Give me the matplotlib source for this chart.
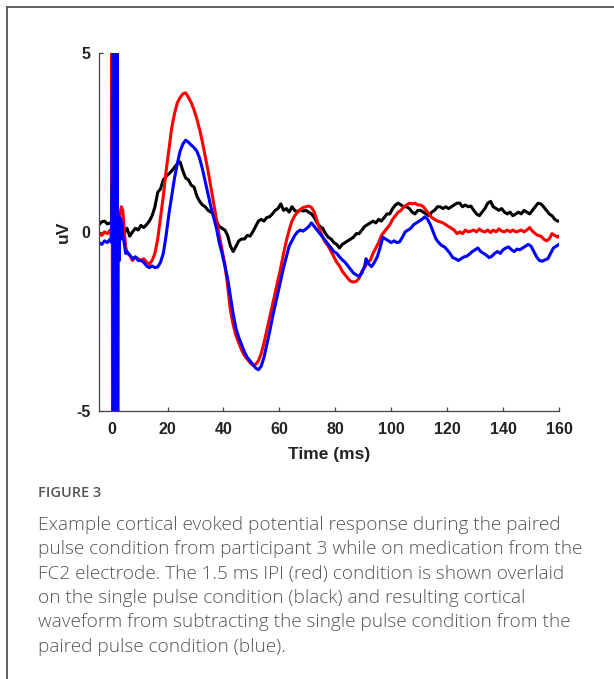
import matplotlib
matplotlib.use("Agg")
import matplotlib.pyplot as plt
from matplotlib.lines import Line2D

plt.rcParams["axes.unicode_minus"] = False

# ---------------- data ----------------
t_black = [-4.5,-3.5,-2.5,-1.5,-0.5,0.5,1.5,2.5,3.5,4.5,5.5,6.5,7.5,8.5,9.5,10.5,11.5,12.5,13.5,14.5,
           15.5,16.5,17.5,18.5,19.5,20.5,21.5,22.5,23.5,24.5,25.5,26.5,27.5,28.5,29.5,30.5,31.5,32.5,33.5,34.5,
           35.5,36.5,37.5,38.5,39.5,40.5,41.5,42.5,43.5,44.5,45.5,46.5,47.5,48.5,49.5,50.5,51.5,52.5,53.5,54.5,
           55.5,56.5,57.5,58.5,59.5,60.5,61.5,62.5,63.5,64.5,65.5,66.5,67.5,68.5,69.5,70.5,71.5,72.5,73.5,74.5,
           75.5,76.5,77.5,78.5,79.5,80.5,81.5,82.5,83.5,84.5,85.5,86.5,87.5,88.5,89.5,90.5,91.5,92.5,93.5,94.5,
           95.5,96.5,97.5,98.5,99.5,100.5,101.5,102.5,103.5,104.5,105.5,106.5,107.5,108.5,109.5,110.5,111.5,112.5,113.5,114.5,
           115.5,116.5,117.5,118.5,119.5,120.5,121.5,122.5,123.5,124.5,125.5,126.5,127.5,128.5,129.5,130.5,131.5,132.5,133.5,134.5,
           135.5,136.5,137.5,138.5,139.5,140.5,141.5,142.5,143.5,144.5,145.5,146.5,147.5,148.5,149.5,150.5,151.5,152.5,153.5,154.5,
           155.5,156.5,157.5,158.5,159.5,160]
v_black = [0.2,0.28,0.3,0.22,0.25,0.3,0.1,0.2,0.0,-0.05,0.1,-0.12,0.0,0.1,0.05,0.18,0.12,0.2,0.3,0.45,
           0.7,1.1,1.2,1.45,1.55,1.62,1.7,1.8,1.9,1.95,1.7,1.5,1.45,1.3,1.25,1.0,0.85,0.75,0.7,0.6,
           0.55,0.5,0.3,0.15,0.1,0.05,-0.1,-0.4,-0.55,-0.4,-0.25,-0.2,-0.2,-0.1,-0.12,0.0,0.15,0.3,0.35,0.3,
           0.4,0.42,0.5,0.6,0.65,0.78,0.6,0.65,0.55,0.7,0.6,0.55,0.62,0.58,0.6,0.55,0.5,0.4,0.25,0.15,
           0.1,-0.05,-0.15,-0.2,-0.3,-0.35,-0.45,-0.35,-0.3,-0.25,-0.2,-0.15,-0.05,-0.05,0.05,0.15,0.2,0.25,0.3,0.25,
           0.35,0.3,0.4,0.5,0.5,0.65,0.75,0.8,0.75,0.7,0.7,0.65,0.55,0.5,0.6,0.6,0.55,0.5,0.45,0.55,
           0.6,0.7,0.7,0.65,0.7,0.65,0.7,0.75,0.8,0.8,0.7,0.75,0.7,0.72,0.6,0.5,0.45,0.55,0.65,0.8,
           0.85,0.7,0.65,0.6,0.65,0.55,0.5,0.55,0.45,0.5,0.55,0.5,0.6,0.55,0.5,0.6,0.7,0.8,0.78,0.7,
           0.6,0.5,0.45,0.35,0.3,0.3]

t_red = [-4.5,-3.5,-2.5,-1.5,-0.5,0.0,0.15,0.35,0.55,0.75,0.95,1.15,1.4,1.8,2.2,2.6,3.0,3.5,4.0,4.5,
         5.0,5.5,6.5,7.5,8.5,9.5,10.5,11.5,12.5,13.5,14.5,15.5,16.5,17.5,18.5,19.5,20.5,21.5,22.5,23.5,
         24.5,25.5,26.5,27.5,28.5,29.5,30.5,31.5,32.5,33.5,34.5,35.5,36.5,37.5,38.5,39.5,40.5,41.5,42.5,43.5,
         44.5,45.5,46.5,47.5,48.5,49.5,50.5,51.5,52.5,53.5,54.5,55.5,56.5,57.5,58.5,59.5,60.5,61.5,62.5,63.5,
         64.5,65.5,66.5,67.5,68.5,69.5,70.5,71.5,72.5,73.5,74.5,75.5,76.5,77.5,78.5,79.5,80.5,81.5,82.5,83.5,
         84.5,85.5,86.5,87.5,88.5,89.5,90.5,91.5,92.5,93.5,94.5,95.5,96.5,97.5,98.5,99.5,100.5,101.5,102.5,103.5,
         104.5,105.5,106.5,107.5,108.5,109.5,110.5,111.5,112.5,113.5,114.5,115.5,116.5,117.5,118.5,119.5,120.5,121.5,122.5,123.5,
         124.5,125.5,126.5,127.5,128.5,129.5,130.5,131.5,132.5,133.5,134.5,135.5,136.5,137.5,138.5,139.5,140.5,141.5,142.5,143.5,
         144.5,145.5,146.5,147.5,148.5,149.5,150.5,151.5,152.5,153.5,154.5,155.5,156.5,157.5,158.5,159.5,160]
v_red = [-0.05,-0.1,0.0,-0.05,0.05,-0.2,5.5,-5.5,5.5,-5.5,5.5,-5.5,0.3,-0.4,0.5,0.1,0.5,0.7,0.6,0.1,
         -0.4,-0.6,-0.65,-0.8,-0.7,-0.75,-0.8,-0.75,-0.85,-0.9,-0.8,-0.6,-0.2,0.4,1.0,1.7,2.3,2.9,3.3,3.6,
         3.75,3.85,3.88,3.75,3.6,3.4,3.15,2.85,2.5,2.1,1.7,1.25,0.8,0.35,-0.1,-0.5,-0.9,-1.5,-2.2,-2.6,
         -2.9,-3.1,-3.3,-3.45,-3.55,-3.65,-3.72,-3.7,-3.6,-3.4,-3.1,-2.75,-2.4,-2.05,-1.7,-1.35,-1.0,-0.6,-0.25,0.05,
         0.3,0.45,0.55,0.62,0.68,0.7,0.72,0.68,0.55,0.3,0.05,-0.15,-0.3,-0.4,-0.55,-0.7,-0.85,-0.95,-1.1,-1.2,
         -1.3,-1.38,-1.4,-1.38,-1.3,-1.1,-1.0,-0.85,-0.8,-0.6,-0.45,-0.3,-0.1,0.0,0.1,0.2,0.35,0.45,0.55,0.6,
         0.7,0.75,0.8,0.78,0.8,0.75,0.75,0.7,0.6,0.5,0.4,0.35,0.3,0.28,0.25,0.2,0.15,0.1,0.05,-0.05,
         0.0,-0.05,0.05,0.0,0.02,0.05,0.0,0.08,0.02,0.0,0.05,-0.02,0.05,0.0,0.08,0.02,0.0,0.05,0.0,0.05,
         0.0,0.02,0.05,0.0,0.05,0.12,0.02,-0.05,-0.1,-0.12,-0.2,-0.25,-0.2,-0.05,-0.1,-0.15,-0.12]

t_blue = [-4.5,-3.5,-2.5,-1.5,-0.5,0.0,0.4,0.6,0.8,1.0,1.2,1.4,1.6,1.8,2.0,2.2,2.4,2.7,3.0,3.3,
          3.6,4.0,4.5,5.0,5.5,6.5,7.5,8.5,9.5,10.5,11.5,12.5,13.5,14.5,15.5,16.5,17.5,18.5,19.5,20.5,
          21.5,22.5,23.5,24.5,25.5,26.5,27.5,28.5,29.5,30.5,31.5,32.5,33.5,34.5,35.5,36.5,37.5,38.5,39.5,40.5,
          41.5,42.5,43.5,44.5,45.5,46.5,47.5,48.5,49.5,50.5,51.5,52.5,53.5,54.5,55.5,56.5,57.5,58.5,59.5,60.5,
          61.5,62.5,63.5,64.5,65.5,66.5,67.5,68.5,69.5,70.5,71.5,72.5,73.5,74.5,75.5,76.5,77.5,78.5,79.5,80.5,
          81.5,82.5,83.5,84.5,85.5,86.5,87.5,88.5,89.5,90.5,91.0,92.0,93.0,94.0,95.0,96.0,97.0,98.0,99.0,100.0,
          101.0,102.0,103.0,104.0,105.0,106.0,107.0,108.0,109.0,110.0,111.0,112.0,113.0,114.0,115.0,116.0,117.0,118.0,119.0,120.0,
          121.0,122.0,123.0,124.0,125.0,126.0,127.0,128.0,129.0,130.0,131.0,132.0,133.0,134.0,135.0,136.0,137.0,138.0,139.0,140.0,
          141.0,142.0,143.0,144.0,145.0,146.0,147.0,148.0,149.0,150.0,151.0,152.0,153.0,154.0,155.0,156.0,157.0,158.0,159.0,160.0]
v_blue = [-0.3,-0.35,-0.25,-0.3,-0.2,-0.3,5.5,-5.5,5.5,-5.5,5.5,-5.5,5.5,-5.5,5.5,-5.5,0.5,-0.8,0.4,-0.2,
          0.3,-0.1,-0.3,-0.6,-0.55,-0.65,-0.75,-0.7,-0.8,-0.8,-0.85,-0.95,-1.0,-0.95,-1.0,-0.98,-0.85,-0.6,-0.1,0.5,
          1.0,1.5,1.9,2.25,2.45,2.56,2.5,2.42,2.35,2.25,2.05,1.75,1.4,1.05,0.7,0.4,0.1,-0.3,-0.6,-0.95,
          -1.3,-1.8,-2.3,-2.7,-2.95,-3.15,-3.35,-3.5,-3.6,-3.7,-3.8,-3.85,-3.75,-3.5,-3.15,-2.8,-2.4,-2.05,-1.7,-1.35,
          -1.0,-0.7,-0.4,-0.25,-0.1,0.0,0.05,0.02,0.08,0.15,0.25,0.15,0.05,-0.05,-0.15,-0.25,-0.35,-0.45,-0.55,-0.6,
          -0.7,-0.78,-0.85,-0.95,-1.05,-1.15,-1.2,-1.25,-1.15,-0.95,-0.75,-0.9,-0.97,-0.85,-0.7,-0.45,-0.15,-0.2,-0.25,-0.3,
          -0.25,-0.3,-0.28,-0.15,0.0,0.05,0.1,0.2,0.25,0.3,0.35,0.42,0.35,0.2,0.0,-0.2,-0.3,-0.38,-0.42,-0.5,
          -0.6,-0.72,-0.75,-0.8,-0.75,-0.7,-0.68,-0.62,-0.55,-0.5,-0.45,-0.55,-0.6,-0.65,-0.72,-0.68,-0.6,-0.55,-0.6,-0.5,
          -0.45,-0.42,-0.5,-0.55,-0.48,-0.5,-0.45,-0.4,-0.35,-0.4,-0.55,-0.7,-0.8,-0.82,-0.78,-0.75,-0.6,-0.45,-0.4,-0.35]

x_ticks = [0, 20, 40, 60, 80, 100, 120, 140, 160]
y_ticks = [-5, 0, 5]
x_label = "Time (ms)"
y_label = "uV"

caption_title = "FIGURE 3"
caption_lines = [
    "Example cortical evoked potential response during the paired",
    "pulse condition from participant 3 while on medication from the",
    "FC2 electrode. The 1.5 ms IPI (red) condition is shown overlaid",
    "on the single pulse condition (black) and resulting cortical",
    "waveform from subtracting the single pulse condition from the",
    "paired pulse condition (blue).",
]

# ---------------- figure ----------------
W, H = 614, 679
fig = plt.figure(figsize=(W / 100, H / 100), dpi=100)
fig.patch.set_facecolor("white")

def fx(px):
    return px / W

def fy(py):
    return 1 - py / H

ax = fig.add_axes([fx(99), fy(411), fx(559) - fx(99), fy(52.7) - fy(411)])
lw = 2.2
ax.plot(t_black, v_black, color="black", lw=lw)
ax.plot(t_red, v_red, color="#ff0000", lw=lw)
ax.plot(t_blue, v_blue, color="#0000ff", lw=lw)

ax.set_xlim(-4.5, 160)
ax.set_ylim(-5, 5)
ax.set_xticks(x_ticks)
ax.set_yticks(y_ticks)
for s in ["top", "right"]:
    ax.spines[s].set_visible(False)
for s in ["left", "bottom"]:
    ax.spines[s].set_color("#444444")
    ax.spines[s].set_linewidth(0.9)
ax.tick_params(direction="in", length=3, width=0.9, color="#444444")
ax.tick_params(axis="x", pad=8)
ax.tick_params(axis="y", pad=6)
for lab in ax.get_xticklabels() + ax.get_yticklabels():
    lab.set_fontfamily(["Liberation Sans", "DejaVu Sans"])
    lab.set_fontweight("bold")
    lab.set_fontsize(11.5)
    lab.set_color("#222222")
ax.set_xlabel(x_label, family=["Liberation Sans", "DejaVu Sans"], weight="bold", size=12.5,
              color="#222222", labelpad=7)
ax.set_ylabel(y_label, family=["Liberation Sans", "DejaVu Sans"], weight="bold", size=12.5,
              color="#222222", labelpad=4)

# border lines
fig.add_artist(Line2D([fx(7), 1.0], [fy(7), fy(7)], color="#555555", lw=1.3))
fig.add_artist(Line2D([fx(7), fx(7)], [fy(7), 0.0], color="#555555", lw=1.3))

cap_font = ["Open Sans", "DejaVu Sans"]
fig.text(fx(38), fy(493), caption_title, family=cap_font, size=10.5, color="#555555",
         weight="semibold", va="center", ha="left")
y0 = 525
for i, line in enumerate(caption_lines):
    fig.text(fx(38), fy(y0 + 24.3 * i), line, family=cap_font, size=13.7, color="#555555",
             weight="light", va="center", ha="left")

fig.savefig("out.png", dpi=100, facecolor="white")
